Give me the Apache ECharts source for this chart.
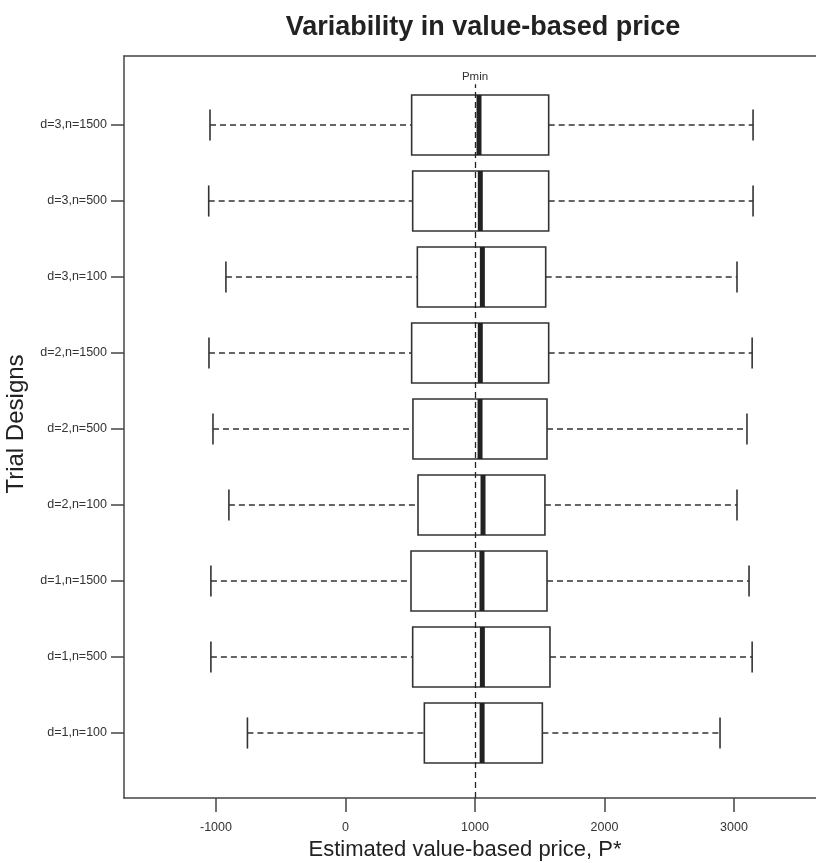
<!DOCTYPE html>
<html>
<head>
<meta charset="utf-8">
<script src="https://cdn.jsdelivr.net/npm/echarts@6/dist/echarts.min.js"></script>
<style>
  html, body { margin: 0; padding: 0; background: #fff; }
  #chart { width: 816px; height: 863px; }
</style>
</head>
<body>
<div id="chart"></div>
<script>
// trial designs, top to bottom
var categories = ['d=3,n=1500', 'd=3,n=500', 'd=3,n=100', 'd=2,n=1500', 'd=2,n=500',
  'd=2,n=100', 'd=1,n=1500', 'd=1,n=500', 'd=1,n=100'];
var lowWhisker = [-1046, -1056, -923, -1054, -1023, -900, -1039, -1039, -757];
var q1 = [511, 519, 555, 511, 521, 560, 506, 519, 609];
var median = [1031, 1041, 1057, 1041, 1039, 1062, 1054, 1057, 1055];
var q3 = [1569, 1569, 1546, 1569, 1556, 1540, 1556, 1579, 1520];
var highWhisker = [3147, 3147, 3023, 3140, 3100, 3023, 3116, 3140, 2892];
var xTicks = [-1000, 0, 1000, 2000, 3000];
var pmin = 1000;

var FONT = '"Liberation Sans", Arial, sans-serif';
var INK = '#333';
var AXIS = '#444';

var boxData = categories.map(function (c, i) {
  return [i, lowWhisker[i], q1[i], median[i], q3[i], highWhisker[i]];
});

function renderBox(params, api) {
  var cat = api.value(0);
  var lo = api.coord([api.value(1), cat]);
  var b1 = api.coord([api.value(2), cat]);
  var md = api.coord([api.value(3), cat]);
  var b3 = api.coord([api.value(4), cat]);
  var hi = api.coord([api.value(5), cat]);
  var band = api.size([0, 1])[1];
  var bh = band * 0.79;
  var ch = band * 0.41;
  var y = lo[1];
  var dash = { stroke: INK, lineWidth: 1.3, lineDash: [6, 4] };
  var solid = { stroke: INK, lineWidth: 1.6 };
  return {
    type: 'group',
    children: [
      { type: 'line', shape: { x1: lo[0], y1: y, x2: b1[0], y2: y }, style: dash },
      { type: 'line', shape: { x1: b3[0], y1: y, x2: hi[0], y2: y }, style: dash },
      { type: 'line', shape: { x1: lo[0], y1: y - ch / 2, x2: lo[0], y2: y + ch / 2 }, style: solid },
      { type: 'line', shape: { x1: hi[0], y1: y - ch / 2, x2: hi[0], y2: y + ch / 2 }, style: solid },
      { type: 'rect', shape: { x: b1[0], y: y - bh / 2, width: b3[0] - b1[0], height: bh },
        style: { fill: '#fff', stroke: INK, lineWidth: 1.6 } },
      { type: 'line', shape: { x1: md[0], y1: y - bh / 2, x2: md[0], y2: y + bh / 2 },
        style: { stroke: '#222', lineWidth: 5 } }
    ]
  };
}

var chart = echarts.init(document.getElementById('chart'));
// right end of the plot is cut off by the picture edge
var xMin = -1710, xMax = 3633;

chart.setOption({
  animation: false,
  backgroundColor: '#fff',
  title: {
    text: 'Variability in value-based price',
    left: 478,
    textAlign: 'center',
    top: 9,
    textStyle: { fontFamily: FONT, fontSize: 27, fontWeight: 'bold', color: '#222' }
  },
  grid: [
    { left: 124, right: 0, top: 56, bottom: 65 },
    { left: 124, right: 0, top: 87, height: 684 }
  ],
  xAxis: [
    {
      type: 'value', gridIndex: 0, min: xMin, max: xMax, position: 'bottom',
      splitLine: { show: false },
      axisLine: { show: true, onZero: false, lineStyle: { color: AXIS, width: 1.5 } },
      axisTick: { show: true, length: 14, customValues: xTicks,
        lineStyle: { color: AXIS, width: 1.5 } },
      axisLabel: { customValues: xTicks, margin: 23, fontFamily: FONT, fontSize: 12.5, color: INK,
        formatter: function (v) { return String(v); } }
    },
    {
      // top frame line
      type: 'value', gridIndex: 0, min: xMin, max: xMax, position: 'top',
      splitLine: { show: false },
      axisLine: { show: true, onZero: false, lineStyle: { color: AXIS, width: 1.5 } },
      axisTick: { show: false }, axisLabel: { show: false }
    },
    {
      type: 'value', gridIndex: 1, min: xMin, max: xMax, show: false
    }
  ],
  yAxis: [
    {
      type: 'value', gridIndex: 0, min: 0, max: 1,
      splitLine: { show: false },
      axisLine: { show: true, onZero: false, lineStyle: { color: AXIS, width: 1.5 } },
      axisTick: { show: false }, axisLabel: { show: false }
    },
    {
      type: 'category', gridIndex: 1, data: categories, inverse: true,
      axisLine: { show: false, onZero: false },
      axisTick: { show: true, alignWithLabel: true, length: 13, lineStyle: { color: AXIS, width: 1.5 } },
      axisLabel: { margin: 17, fontFamily: FONT, fontSize: 12.5, color: INK }
    }
  ],
  graphic: [
    { type: 'text', x: 465, y: 850, style: { text: 'Estimated value-based price, P*',
      font: '22px ' + FONT, fill: '#222', textAlign: 'center', textVerticalAlign: 'middle' } },
    { type: 'text', x: 16, y: 424, rotation: Math.PI / 2, style: { text: 'Trial Designs',
      font: '24px ' + FONT, fill: '#222', textAlign: 'center', textVerticalAlign: 'middle' } }
  ],
  series: [
    {
      type: 'line', xAxisIndex: 0, yAxisIndex: 0, data: [], silent: true,
      markLine: {
        silent: true, symbol: 'none',
        lineStyle: { color: '#222', width: 1.3, type: [6, 4] },
        label: { show: true, position: 'end', formatter: 'Pmin', distance: 1,
          fontFamily: FONT, fontSize: 11.5, color: INK },
        data: [[{ coord: [pmin, 0] }, { coord: [pmin, 0.962] }]]
      }
    },
    {
      type: 'custom', xAxisIndex: 2, yAxisIndex: 1,
      renderItem: renderBox,
      encode: { x: [1, 2, 3, 4, 5], y: 0 },
      data: boxData
    }
  ]
});
</script>
</body>
</html>
